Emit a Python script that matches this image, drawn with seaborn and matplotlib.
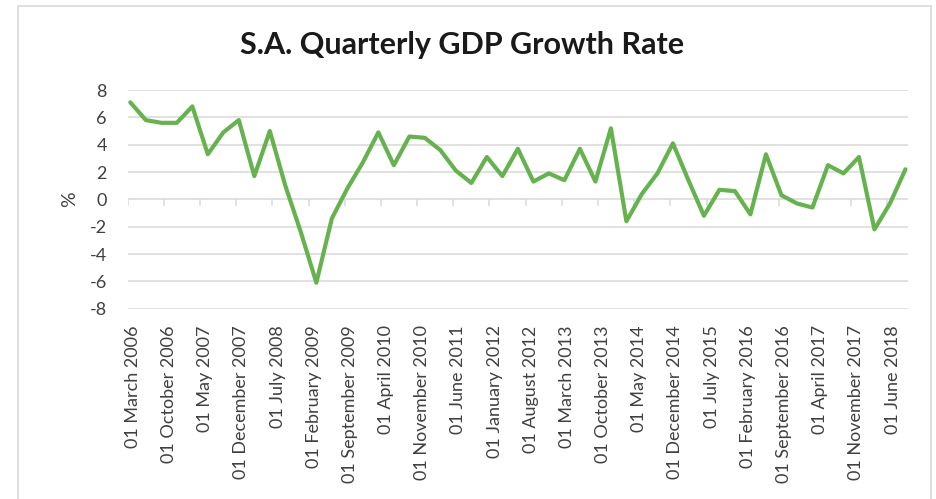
import matplotlib
matplotlib.use("Agg")
import matplotlib.pyplot as plt
import matplotlib.patches as patches
import pandas as pd
import seaborn as sns

# quarterly GDP growth (%), March 2006 .. September 2018
dates = pd.date_range("2006-03-01", periods=51, freq="3MS")
growth = [7.1, 5.8, 5.6, 5.6, 6.8, 3.3, 4.9, 5.8, 1.7, 5.0,
          1.0, -2.4, -6.1, -1.4, 0.8, 2.7, 4.9, 2.5, 4.6, 4.5,
          3.6, 2.1, 1.2, 3.1, 1.7, 3.7, 1.3, 1.9, 1.4, 3.7,
          1.3, 5.2, -1.6, 0.4, 1.9, 4.1, 1.4, -1.2, 0.7, 0.6,
          -1.1, 3.3, 0.3, -0.3, -0.6, 2.5, 1.9, 3.1, -2.2, -0.3, 2.2]

tick_dates = pd.date_range("2006-03-01", "2018-06-01", freq="7MS")
tick_labels = [d.strftime("%d %B %Y") for d in tick_dates]
y_ticks = [-8, -6, -4, -2, 0, 2, 4, 6, 8]

def month_index(d):
    return (d.year - 2006) * 12 + d.month - 3

df = pd.DataFrame({"month": [month_index(d) + 0.5 for d in dates], "growth": growth})

sns.set_style("white")
plt.rcParams["font.family"] = ["Lato", "DejaVu Sans"]

fig = plt.figure(figsize=(9.37, 4.99), dpi=100)
ax = fig.add_axes([0.1363, 0.3814, 0.8328, 0.4382])

# grey frame round the chart
fig.patches.append(patches.Rectangle((18 / 937, -0.05), (931 - 18) / 937, 1.05 - 6 / 499,
                                     transform=fig.transFigure, fill=False,
                                     edgecolor="#d9d9d9", lw=1.2))

grid_col = "#d9d9d9"
for y in y_ticks:
    ax.axhline(y, color=grid_col, lw=1.1, zorder=0)

# tick marks hanging below the zero line
tick_pos = [month_index(d) for d in tick_dates]
ax.vlines(tick_pos, -0.45, 0, color=grid_col, lw=1.1, zorder=0)

sns.lineplot(data=df, x="month", y="growth", color="#66b24f", lw=3.0, ax=ax, zorder=3)

ax.set_xlim(0, 151)
ax.set_ylim(-8, 8)
ax.set_yticks(y_ticks)
ax.set_yticklabels([str(v) for v in y_ticks], color="#404040", fontsize=13)
ax.set_xticks([p + 1 for p in tick_pos])
ax.set_xticklabels(tick_labels, rotation=90, color="#404040", fontsize=13)
ax.tick_params(axis="both", length=0)
ax.tick_params(axis="y", pad=15)
ax.tick_params(axis="x", pad=12)
for s in ax.spines.values():
    s.set_visible(False)

ax.set_xlabel("")
ax.set_ylabel("%", fontsize=14, color="#404040", labelpad=8)
fig.text(0.493, 0.91, "S.A. Quarterly GDP Growth Rate", ha="center", va="center",
         fontsize=22, fontweight="bold", color="#1a1a1a")

fig.savefig("out.png", dpi=100, facecolor="white")
